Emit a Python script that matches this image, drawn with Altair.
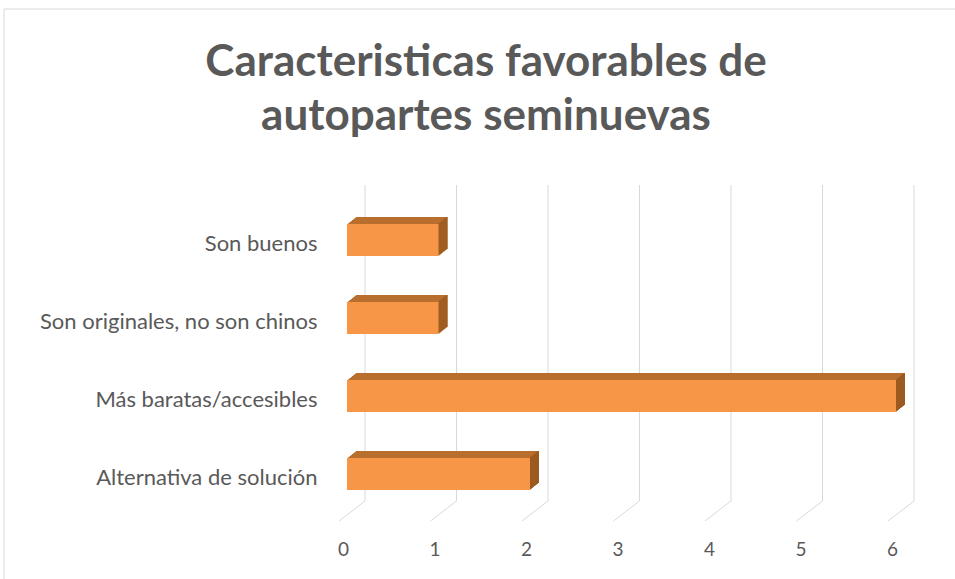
import altair as alt
import pandas as pd

categories = ["Son buenos", "Son originales, no son chinos", "Más baratas/accesibles", "Alternativa de solución"]
values = [1, 1, 6, 2]
ticks = [0, 1, 2, 3, 4, 5, 6]
title_lines = ["Caracteristicas favorables de", "autopartes seminuevas"]

FONT = "Lato"
GRAY = "#595959"
GRID = "#d9d9d9"
FRONT = "#F79646"
TOP = "#B96F2E"
SIDE = "#9C5A21"

df = pd.DataFrame({"cat": categories, "v": values})
tdf = pd.DataFrame({"t": ticks})

xs = alt.Scale(domain=[0, 6], nice=False, zero=True)
ys = alt.Scale(domain=categories, paddingInner=0, paddingOuter=0)

W, H = 549, 312
PL, PT = 347, 201
DX, DY, N = 9, 7, 9

xaxis = alt.Axis(values=ticks, format="d", grid=False, domain=False, ticks=False, labelFont=FONT,
                 labelFontSize=19, labelColor=GRAY, labelPadding=27, labelOffset=-4, labelFlush=False,
                 title=None)
yaxis = alt.Axis(domain=False, ticks=False, grid=False, labelFont=FONT, labelFontSize=22,
                 labelColor=GRAY, labelPadding=30, labelLimit=0, labelOffset=4, title=None)


def X(field="v:Q"):
    return alt.X(field, scale=xs, axis=xaxis)


def Y():
    return alt.Y("cat:N", scale=ys, sort=categories, axis=yaxis)


border = alt.Chart(pd.DataFrame({"a": [0]})).mark_rect(
    fill=None, stroke=GRID, strokeWidth=1
).encode(x=alt.value(4 - PL), x2=alt.value(955 - PL + 10), y=alt.value(9 - PT), y2=alt.value(579 - PT + 10))

grid_v = alt.Chart(tdf).mark_rule(color=GRID, strokeWidth=1, xOffset=18, x2Offset=18).encode(
    x=X("t:Q"), y=alt.value(-16), y2=alt.value(300))

grid_d = alt.Chart(tdf).mark_rule(color=GRID, strokeWidth=1, xOffset=18, x2Offset=-8).encode(
    x=X("t:Q"), x2="t:Q", y=alt.value(300), y2=alt.value(320))

layers = [border, grid_v, grid_d]
for k in range(N, 0, -1):
    ox = k * DX / N
    oy = -k * DY / N
    layers.append(alt.Chart(df).mark_bar(size=32, color=TOP, xOffset=ox, x2Offset=ox, yOffset=oy, y2Offset=oy).encode(
        x=X(), y=Y()))
for k in range(N, 0, -1):
    ox = k * DX / N
    oy = -k * DY / N
    layers.append(alt.Chart(df).mark_bar(size=32, color=SIDE, xOffset=ox - 1.2, x2Offset=ox, yOffset=oy, y2Offset=oy).encode(
        x=X(), x2="v:Q", y=Y()))

layers.append(alt.Chart(df).mark_bar(size=32, color=FRONT).encode(x=X(), y=Y()))

tdf2 = pd.DataFrame({"line": title_lines})
for i, yy in enumerate([76, 130]):
    layers.append(alt.Chart(tdf2.iloc[[i]]).mark_text(
        font=FONT, fontSize=44, fontWeight="bold", color=GRAY, align="center", baseline="alphabetic"
    ).encode(text="line:N", x=alt.value(486 - PL), y=alt.value(yy - PT)))

chart = alt.layer(*layers).properties(
    width=W, height=H,
    autosize=alt.AutoSizeParams(type="none"),
    padding={"left": PL, "top": PT, "right": 955 - PL - W, "bottom": 579 - PT - H},
    background="white",
).configure_view(stroke=None)

chart.save("out.html", embed_options={"renderer": "svg", "actions": False})
